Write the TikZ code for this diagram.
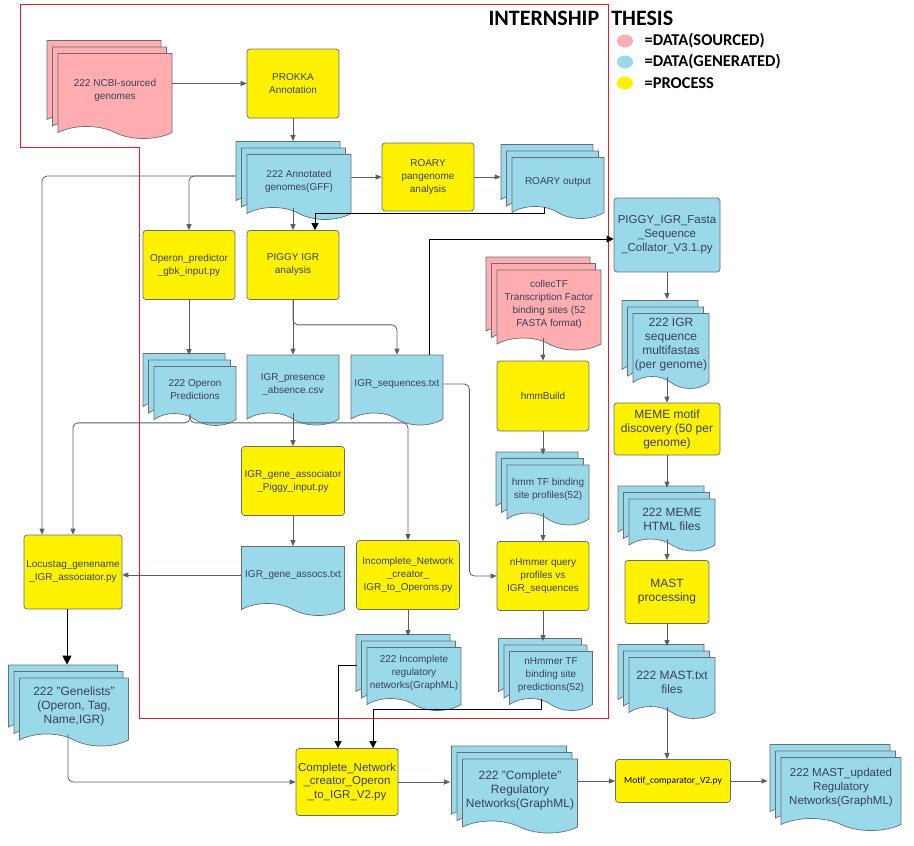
\documentclass[tikz,border=0pt]{standalone}
\usepackage{fontspec}
\setmainfont{Liberation Sans}
\newfontfamily\calib{Carlito}
\usetikzlibrary{arrows.meta,shapes.symbols,shapes.geometric,shadows}
\definecolor{pinkd}{RGB}{255,173,176}
\definecolor{blued}{RGB}{154,217,234}
\definecolor{procy}{RGB}{255,242,0}
\definecolor{bord}{RGB}{104,110,120}
\definecolor{lnk}{RGB}{88,94,106}
\definecolor{txt}{RGB}{58,64,88}
\definecolor{frame}{RGB}{237,28,36}
\begin{document}
\begin{tikzpicture}[x=1pt,y=-1pt,
  font=\fontsize{10}{13}\selectfont,
  >={Triangle[length=6pt,width=5pt]},
  proc/.style={rectangle,rounded corners=3pt,draw=bord,line width=0.7pt,fill=procy,text=txt,align=center,inner sep=1pt},
  doc/.style={tape,tape bend top=none,tape bend bottom=out and in,tape bend height=12pt,draw=bord,line width=0.7pt,fill=#1,text=txt,align=center,inner sep=1pt},
  mdoc/.style={doc=#1,copy shadow={shadow xshift=-11pt,shadow yshift=13pt,fill=#1,draw=bord},copy shadow={shadow xshift=-5.5pt,shadow yshift=6.5pt,fill=#1,draw=bord}},
  big/.style={font=\fontsize{12}{14}\selectfont},
  link/.style={draw=lnk,line width=0.8pt,->,rounded corners=5pt},
  blk/.style={draw=black,line width=1pt,-{Triangle[length=7pt,width=7pt]}},
  blob/.style={ellipse,inner sep=0pt,minimum width=16pt,minimum height=13pt},
  legend/.style={anchor=west,font=\calib\bfseries\fontsize{16.5}{18}\selectfont}]
\useasboundingbox (0,0) rectangle (914,846);
\draw[frame,line width=1pt] (20,4) -- (608,4) -- (608,718) -- (139,718) -- (139,147) -- (20,147) -- cycle;
\node[anchor=west,font=\calib\bfseries\fontsize{22}{24}\selectfont] (title) at (485,18) {INTERNSHIP\hspace{12pt}THESIS};
\node[blob,fill=pinkd] (legsrc) at (625,41) {};
\node[blob,fill=blued] (leggen) at (625,62) {};
\node[blob,fill=procy] (legproc) at (625,83) {};
\node[legend] (legsrctxt) at (641,41) {=DATA(SOURCED)};
\node[legend] (leggentxt) at (641,62) {=DATA(GENERATED)};
\node[legend] (legproctxt) at (641,83) {=PROCESS};
\node[mdoc=pinkd,minimum width=114pt,minimum height=85pt] (ncbi) at (115,90) {222 NCBI-sourced\\genomes};
\node[proc,minimum width=92pt,minimum height=69pt] (prokka) at (293,83.5) {PROKKA\\Annotation};
\node[mdoc=blued,minimum width=104pt,minimum height=65pt] (annot) at (299,181) {222 Annotated\\genomes(GFF)};
\node[proc,minimum width=92pt,minimum height=68pt] (roary) at (428,177) {ROARY\\pangenome\\analysis};
\node[mdoc=blued,minimum width=92pt,minimum height=61pt] (roaryout) at (558,182) {ROARY output};
\node[proc,fill=blued,font=\fontsize{11.5}{14}\selectfont,minimum width=106pt,minimum height=74pt] (piggycoll) at (667,235) {PIGGY\_IGR\_Fasta\\\_Sequence\\\_Collator\_V3.1.py};
\node[proc,minimum width=92pt,minimum height=69pt] (operon) at (189,265) {Operon\_predictor\\\_gbk\_input.py};
\node[proc,minimum width=92pt,minimum height=69pt] (piggy) at (293,265) {PIGGY IGR\\analysis};
\node[mdoc=blued,minimum width=82pt,minimum height=59pt] (operonpred) at (195,390) {222 Operon\\Predictions};
\node[doc=blued,minimum width=92pt,minimum height=70pt] (igrpa) at (293,384) {IGR\_presence\\\_absence.csv};
\node[doc=blued,minimum width=92pt,minimum height=70pt] (igrseq) at (397,384) {IGR\_sequences.txt};
\node[mdoc=pinkd,minimum width=104pt,minimum height=80pt] (collectf) at (549,304) {collecTF\\Transcription Factor\\binding sites (52\\FASTA format)};
\node[proc,minimum width=92pt,minimum height=70pt] (hmmbuild) at (543,396) {hmmBuild};
\node[mdoc=blued,big,minimum width=76pt,minimum height=75pt] (igrcoll) at (671,345) {222 IGR\\sequence\\multifastas\\(per genome)};
\node[proc,big,minimum width=106pt,minimum height=52pt] (meme) at (667,429) {MEME motif\\discovery (50 per\\genome)};
\node[mdoc=blued,minimum width=82pt,minimum height=60pt] (hmmprof) at (548,489) {hmm TF binding\\site profiles(52)};
\node[mdoc=blued,big,minimum width=86pt,minimum height=52pt] (memehtml) at (672,519) {222 MEME\\HTML files};
\node[proc,minimum width=92pt,minimum height=69pt] (nhmmer) at (543,576) {nHmmer query\\profiles vs\\IGR\_sequences};
\node[proc,big,minimum width=84pt,minimum height=63pt] (mast) at (667,592) {MAST\\processing};
\node[mdoc=blued,minimum width=83pt,minimum height=59pt] (nhmmerpred) at (551,675) {nHmmer TF\\binding site\\predictions(52)};
\node[mdoc=blued,big,minimum width=86pt,minimum height=61pt] (masttxt) at (672,682) {222 MAST.txt\\files};
\node[proc,minimum width=103pt,minimum height=69pt] (igrgene) at (293,481) {IGR\_gene\_associator\\\_Piggy\_input.py};
\node[doc=blued,minimum width=103pt,minimum height=69pt] (igrassoc) at (293,575) {IGR\_gene\_assocs.txt};
\node[proc,minimum width=98pt,minimum height=74pt] (locus) at (73,572) {Locustag\_genename\\\_IGR\_associator.py};
\node[proc,minimum width=103pt,minimum height=69pt] (incomplete) at (408,575) {Incomplete\_Network\\\_creator\_\\IGR\_to\_Operons.py};
\node[mdoc=blued,minimum width=94pt,minimum height=63pt] (incompnet) at (414,673) {222 Incomplete\\regulatory\\networks(GraphML)};
\node[mdoc=blued,big,minimum width=109pt,minimum height=68pt] (genelists) at (74,706) {222 "Genelists"\\(Operon, Tag,\\Name,IGR)};
\node[proc,font=\fontsize{11.5}{13.5}\selectfont,minimum width=102pt,minimum height=67pt] (complete) at (347,782) {Complete\_Network\\\_creator\_Operon\\\_to\_IGR\_V2.py};
\node[mdoc=blued,big,minimum width=115pt,minimum height=74pt] (completenet) at (520,790) {222 "Complete"\\Regulatory\\Networks(GraphML)};
\node[proc,text=black,font=\calib\fontsize{9.5}{11}\selectfont,minimum width=115pt,minimum height=43pt] (motif) at (673,781) {Motif\_comparator\_V2.py};
\node[mdoc=blued,font=\fontsize{11.5}{14}\selectfont,minimum width=120pt,minimum height=73pt] (mastnet) at (841,788) {222 MAST\_updated\\Regulatory\\Networks(GraphML)};
\draw[link] (prokka.west -| ncbi.east) -- (prokka.west);
\draw[link] (prokka.south) -- ([yshift=13pt]prokka.south |- annot.north);
\draw[link] (annot.east |- roary) -- (roary.west);
\draw[link] (roary.east) -- ([xshift=-11pt]roaryout.west |- roary);
\draw[link] ([xshift=-11pt,yshift=5pt]annot.west) -| (operon.north);
\draw[link] ([xshift=-11pt,yshift=5pt]annot.west) -| ([xshift=-31pt]locus.north);
\draw[link] (piggy.north |- annot.south) -- (piggy.north);
\draw[blk] ([xshift=-14pt]roaryout.south) -- ++(0,7) -| ([xshift=22pt]piggy.north);
\draw[link] (piggy.south) -- (igrpa.north);
\draw[link] (piggy.south) -- ++(0,25) -| (igrseq.north);
\draw[link] (operon.south) -- ([yshift=11pt]operon.south |- operonpred.north);
\draw[blk] ([xshift=32pt]igrseq.north) |- ([yshift=-4pt]piggycoll.west);
\draw[link] (igrseq.east) -- ++(26,0) |- (nhmmer.west);
\draw[link] (hmmbuild.north |- collectf.south) -- (hmmbuild.north);
\draw[link] (hmmbuild.south) -- ([yshift=10pt]hmmbuild.south |- hmmprof.north);
\draw[link] (nhmmer.north |- hmmprof.south) -- (nhmmer.north);
\draw[link] (nhmmer.south) -- ([yshift=10pt]nhmmer.south |- nhmmerpred.north);
\draw[blk] ([xshift=-10pt]nhmmerpred.south) -- ++(0,11) -| ([xshift=26pt]complete.north);
\draw[blk] ([xshift=-10pt,yshift=8pt]incompnet.west) -| ([xshift=-9pt]complete.north);
\draw[link] ([xshift=-5pt]operonpred.south) -- ++(0,9) -| (locus.north);
\draw[link] ([xshift=-5pt]operonpred.south) -- ++(0,9) -| (incomplete.north);
\draw[link] (igrpa.south) -- (igrgene.north);
\draw[link] (igrgene.south) -- (igrassoc.north);
\draw[link] (igrassoc.west) -- (locus.east |- igrassoc.west);
\draw[link] (incomplete.south) -- ([yshift=11pt]incomplete.south |- incompnet.north);
\draw[blk,-{Triangle[length=9pt,width=9pt]}] ([xshift=-6pt]locus.south) -- ([xshift=-6pt,yshift=13pt]locus.south |- genelists.north);
\draw[link] ([xshift=-6pt]genelists.south) |- (complete.west);
\draw[link] (complete.east) -- ([xshift=-12pt]completenet.west |- complete.east);
\draw[link] (completenet.east |- motif.west) -- (motif.west);
\draw[link] ([xshift=-5pt]masttxt.south) -- ([xshift=-6pt]motif.north);
\draw[link] (motif.east) -- ([xshift=-13pt]mastnet.west |- motif.east);
\draw[link] (piggycoll.south) -- ([yshift=14pt]piggycoll.south |- igrcoll.north);
\draw[link] (meme.north |- igrcoll.south) -- (meme.north);
\draw[link] (meme.south) -- ([yshift=11pt]meme.south |- memehtml.north);
\draw[link] (mast.north |- memehtml.south) -- (mast.north);
\draw[link] (mast.south) -- ([yshift=11pt]mast.south |- masttxt.north);
\end{tikzpicture}
\end{document}
